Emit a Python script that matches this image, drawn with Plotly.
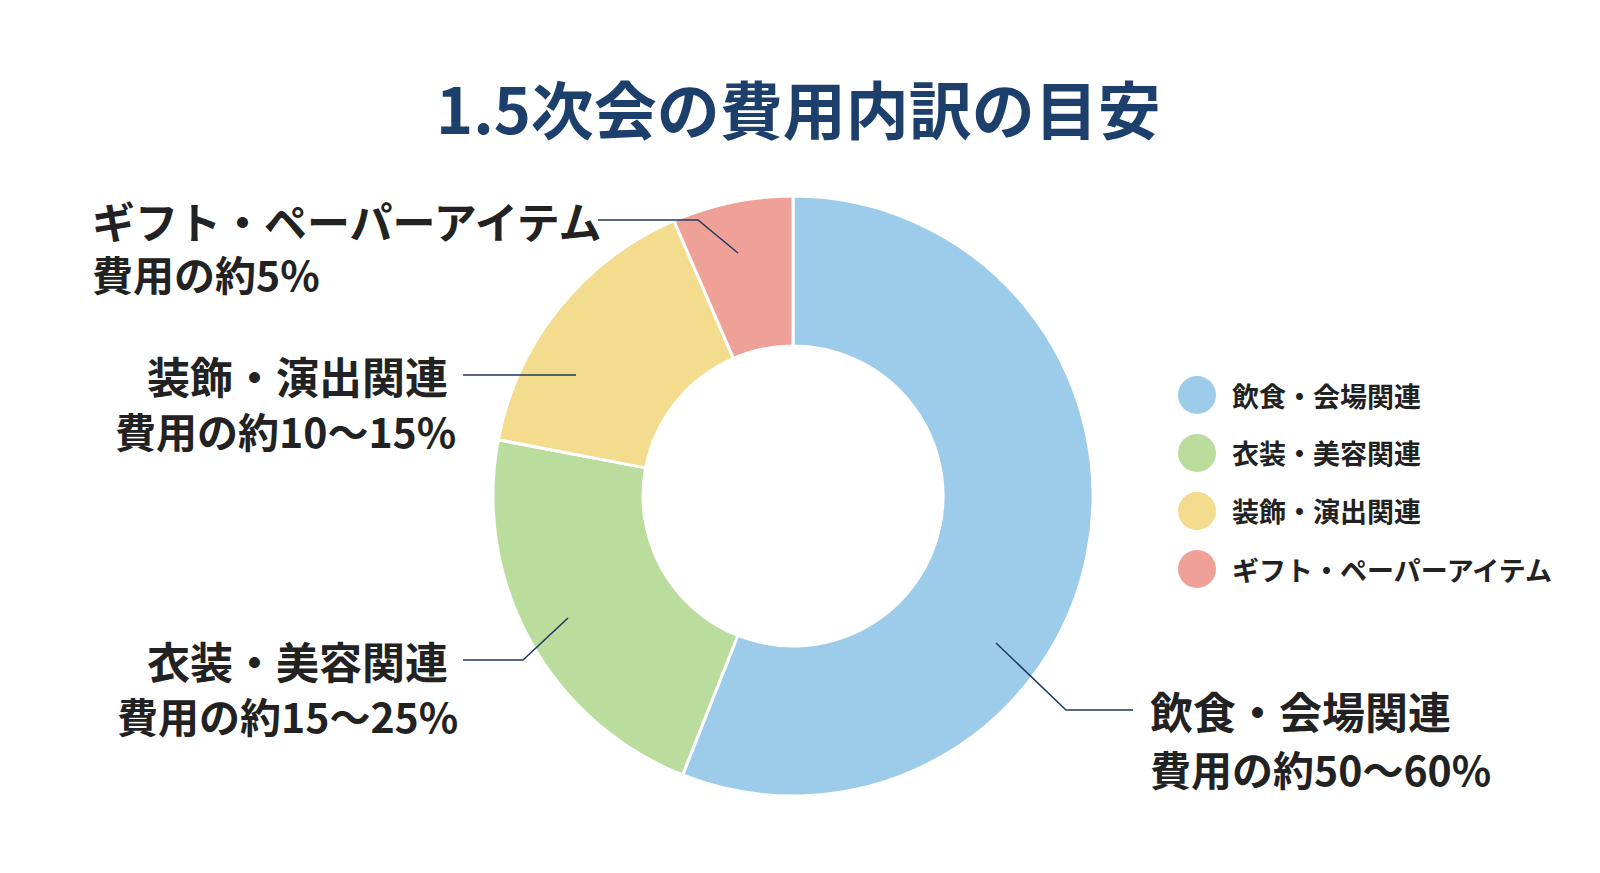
import plotly.graph_objects as go

labels = ["飲食・会場関連", "衣装・美容関連", "装飾・演出関連", "ギフト・ペーパーアイテム"]
values = [56, 22, 15.5, 6.5]
ranges = ["費用の約50〜60%", "費用の約15〜25%", "費用の約10〜15%", "費用の約5%"]
colors = ["#9dcbea", "#badc9c", "#f3dc8e", "#f0a197"]

W, H = 1600, 873
def px(x, y):
    return x / W, 1 - y / H

FONT = "Noto Sans CJK JP"
fig = go.Figure()
fig.add_trace(go.Pie(labels=labels, values=values, hole=0.5, sort=False, direction="clockwise",
                     rotation=0, marker=dict(colors=colors, line=dict(color="white", width=3)),
                     textinfo="none", hoverinfo="label+percent", showlegend=False,
                     domain=dict(x=[485 / W, 1085 / W], y=[1 - 792 / H, 1 - 184 / H])))

ann = []
shapes = []
def text(x, y, t, size, anchor, color="#222222", bold=True):
    xx, yy = px(x, y)
    ann.append(dict(x=xx, y=yy, xref="paper", yref="paper", text=f"<b>{t}</b>" if bold else t,
                    showarrow=False, xanchor=anchor, yanchor="middle",
                    font=dict(family=FONT, size=size, color=color)))
def line(pts):
    path = "M " + " L ".join(f"{px(x,y)[0]},{px(x,y)[1]}" for x, y in pts)
    shapes.append(dict(type="path", path=path, xref="paper", yref="paper",
                       line=dict(color="#1f3a5f", width=1.5)))

text(790, 98, "1.5次会の費用内訳の目安", 63, "center", color="#1d3f6b")
text(1140, 702, labels[0], 43, "left"); text(1140, 760, ranges[0], 41, "left")
line([(988, 635), (1058, 702), (1125, 702)])
text(442, 652, labels[1], 43, "right"); text(452, 707, ranges[1], 41, "right")
line([(455, 652), (515, 652), (560, 610)])
text(442, 367, labels[2], 43, "right"); text(450, 422, ranges[2], 41, "right")
line([(455, 367), (568, 367)])
text(82, 212, labels[3], 43, "left"); text(82, 265, ranges[3], 41, "left")
line([(590, 212), (690, 212), (730, 245)])

for i, (lab, c) in enumerate(zip(labels, colors)):
    y = 387 + 58 * i
    x0, y0 = px(1170, y - 19); x1, y1 = px(1208, y + 19)
    shapes.append(dict(type="circle", xref="paper", yref="paper", x0=x0, y0=y1, x1=x1, y1=y0,
                       fillcolor=c, line=dict(width=0)))
    text(1222, y, lab, 27, "left")

fig.update_layout(width=W, height=H, margin=dict(l=0, r=0, t=0, b=0),
                  paper_bgcolor="white", plot_bgcolor="white",
                  annotations=ann, shapes=shapes, font=dict(family=FONT))
fig.write_html("out.html")
